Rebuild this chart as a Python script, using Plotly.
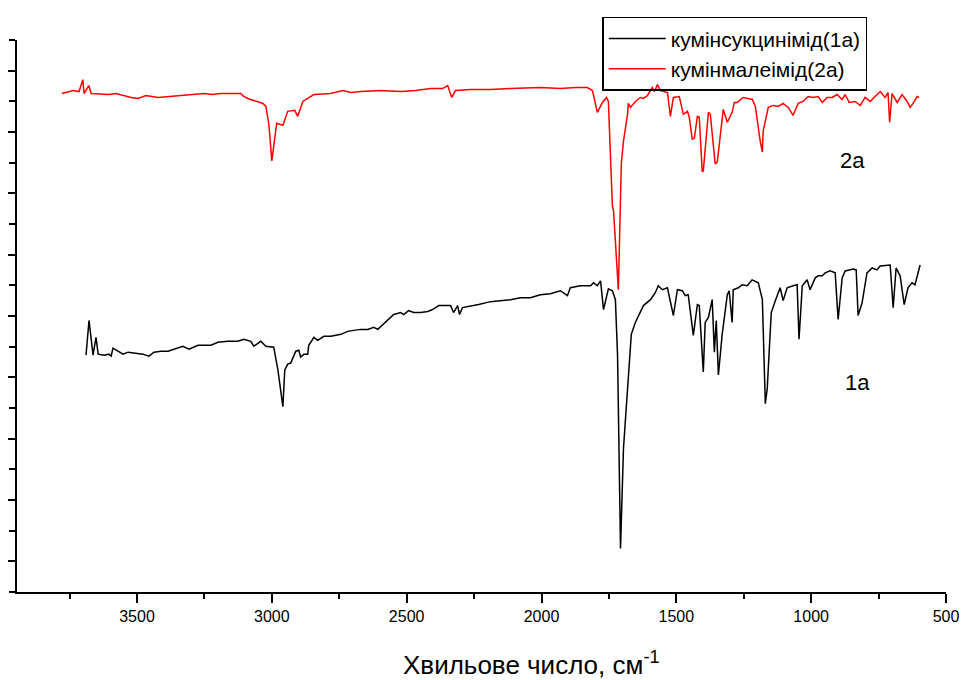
import plotly.graph_objects as go

# FTIR spectra, wavenumber (cm-1) vs. transmittance (arbitrary units)
wn_2a = [3779, 3737, 3715, 3701, 3696, 3679, 3670, 3607, 3578, 3541, 3522, 3496, 3467, 3422,
         3374, 3326, 3282, 3252, 3219, 3189, 3152, 3115, 3104, 3089, 3067, 3033, 3022, 3011,
         3000, 2982, 2959, 2941, 2915, 2904, 2885, 2844, 2782, 2737, 2707, 2670, 2596, 2522,
         2467, 2411, 2367, 2348, 2333, 2319, 2263, 2189, 2115, 2004, 1930, 1874, 1830, 1811,
         1793, 1774, 1759, 1752, 1737, 1733, 1715, 1704, 1696, 1681, 1678, 1670, 1652, 1633,
         1622, 1607, 1589, 1581, 1570, 1559, 1533, 1522, 1511, 1489, 1474, 1459, 1452, 1441,
         1433, 1422, 1415, 1404, 1400, 1381, 1374, 1356, 1348, 1326, 1311, 1293, 1285, 1274,
         1252, 1218, 1207, 1200, 1189, 1181, 1178, 1159, 1141, 1122, 1104, 1085, 1067, 1048,
         1030, 1011, 993, 974, 959, 941, 922, 904, 885, 874, 859, 837, 818, 800, 781, 763,
         744, 726, 715, 709, 700, 681, 663, 644, 633, 622, 607, 600]
t_2a = [503, 506, 505, 517, 503, 511, 503, 502, 503, 500, 499, 498, 501, 499,
        500, 501, 502, 503, 502, 503, 503, 503, 500, 498, 496, 493, 490, 472,
        435, 473, 471, 485, 486, 480, 495, 502, 503, 506, 504, 505, 506, 505,
        506, 508, 508, 511, 499, 506, 507, 507, 508, 509, 508, 509, 509, 506,
        484, 494, 499, 495, 389, 385, 305, 432, 455, 482, 493, 489, 495, 499,
        498, 501, 509, 505, 512, 506, 504, 480, 499, 500, 482, 485, 479, 457,
        458, 480, 479, 424, 425, 484, 482, 432, 434, 487, 474, 484, 494, 494,
        499, 497, 490, 475, 455, 444, 465, 489, 491, 490, 493, 489, 481, 493,
        495, 500, 499, 500, 494, 499, 499, 502, 497, 502, 494, 495, 491, 499, 495, 500,
        505, 499, 504, 474, 503, 494, 502, 495, 489, 493, 500, 499]

wn_1a = [3689, 3678, 3663, 3652, 3644, 3622, 3604, 3596, 3589, 3570, 3552, 3533, 3496, 3478,
         3456, 3437, 3411, 3385, 3363, 3330, 3307, 3274, 3252, 3226, 3200, 3163, 3126, 3104,
         3078, 3067, 3041, 3022, 2993, 2978, 2959, 2952, 2941, 2930, 2911, 2900, 2893, 2881,
         2867, 2863, 2844, 2830, 2807, 2781, 2744, 2719, 2696, 2670, 2644, 2622, 2607, 2596,
         2570, 2548, 2522, 2511, 2493, 2474, 2448, 2422, 2404, 2381, 2337, 2326, 2311, 2304,
         2293, 2252, 2233, 2189, 2152, 2115, 2078, 2041, 2004, 1967, 1930, 1904, 1893, 1856,
         1818, 1807, 1793, 1781, 1770, 1752, 1737, 1726, 1718, 1707, 1696, 1667, 1652, 1622,
         1596, 1578, 1567, 1552, 1533, 1511, 1496, 1478, 1467, 1456, 1437, 1422, 1415, 1400,
         1393, 1381, 1367, 1359, 1352, 1344, 1330, 1311, 1304, 1293, 1289, 1270, 1256, 1237,
         1219, 1196, 1181, 1170, 1163, 1148, 1133, 1115, 1104, 1089, 1067, 1052, 1045, 1033,
         1015, 1004, 985, 974, 959, 948, 930, 911, 900, 885, 874, 844, 833, 826, 811, 793,
         774, 756, 744, 707, 696, 685, 670, 655, 641, 626, 615, 596]
t_1a = [239, 274, 239, 257, 240, 239, 240, 238, 246, 243, 240, 242, 241, 240,
        238, 242, 243, 243, 245, 248, 245, 249, 249, 249, 252, 253, 253, 255,
        253, 248, 253, 248, 247, 225, 187, 224, 230, 231, 243, 244, 237, 240,
        240, 249, 257, 254, 258, 258, 260, 263, 264, 265, 265, 267, 265, 268,
        274, 280, 282, 280, 284, 282, 282, 283, 285, 289, 289, 282, 289, 280,
        287, 289, 290, 293, 294, 295, 297, 297, 300, 301, 304, 299, 307, 309,
        309, 312, 309, 314, 285, 306, 304, 295, 239, 44, 145, 260, 272, 289,
        295, 302, 309, 305, 307, 279, 305, 304, 299, 300, 259, 290, 289, 222,
        272, 277, 295, 242, 274, 219, 260, 300, 304, 272, 305, 307, 310, 309,
        315, 312, 295, 190, 205, 282, 294, 307, 294, 307, 309, 310, 255, 309,
        315, 305, 317, 319, 319, 322, 324, 322, 275, 317, 324, 326, 325, 279, 292, 322,
        327, 325, 329, 330, 287, 327, 319, 290, 307, 312, 310, 330]

names = ["кумінсукцинімід(1a)", "кумінмалеімід(2a)"]
labels = ["2a", "1a"]
label_pos = [(848, 435), (830, 211)]
x_title = "Хвильове число, см<sup>-1</sup>"

FONT = "Liberation Sans, Arial, sans-serif"

fig = go.Figure()
fig.add_trace(go.Scatter(x=wn_1a, y=t_1a, mode="lines", name=names[0],
                         line=dict(color="black", width=1.5)))
fig.add_trace(go.Scatter(x=wn_2a, y=t_2a, mode="lines", name=names[1],
                         line=dict(color="#ff0000", width=1.5)))

for txt, (lx, ly) in zip(labels, label_pos):
    fig.add_annotation(x=lx, y=ly, text=txt, showarrow=False,
                       font=dict(family=FONT, size=22, color="black"))

# axis title sits right of centre in the original, so place it as an annotation
fig.add_annotation(x=0.554, y=-0.129, xref="paper", yref="paper", text=x_title,
                   showarrow=False, xanchor="center", yanchor="middle",
                   font=dict(family=FONT, size=26, color="black"))

step = 557 / 18
# page body adds an 8px offset, margins compensate for it
fig.update_layout(
    width=968, height=680,
    margin=dict(l=9, r=30, t=27, b=96),
    paper_bgcolor="white", plot_bgcolor="white",
    showlegend=True,
    legend=dict(x=0.63, y=1.042, xanchor="left", yanchor="top",
                bgcolor="rgba(255,255,255,0)", bordercolor="black", borderwidth=1.5,
                font=dict(family=FONT, size=21, color="black"),
                tracegroupgap=0, itemwidth=57),
    xaxis=dict(range=[3945, 500], showgrid=False, zeroline=False, automargin=False,
               showline=True, linecolor="black", linewidth=2,
               ticks="outside", tickcolor="black", ticklen=9, tickwidth=1.5,
               dtick=500, tick0=500,
               minor=dict(dtick=250, tick0=500, ticks="outside", ticklen=5,
                          tickcolor="black", tickwidth=1.5),
               tickfont=dict(family=FONT, size=16, color="black")),
    yaxis=dict(range=[0, 557], showgrid=False, zeroline=False, automargin=False,
               showline=True, linecolor="black", linewidth=2,
               ticks="outside", tickcolor="black", ticklen=12, tickwidth=2,
               tick0=step, dtick=2 * step, showticklabels=False,
               minor=dict(tick0=0, dtick=step, ticks="outside", ticklen=6,
                          tickcolor="black", tickwidth=2)),
)

fig.write_html("out.html")
